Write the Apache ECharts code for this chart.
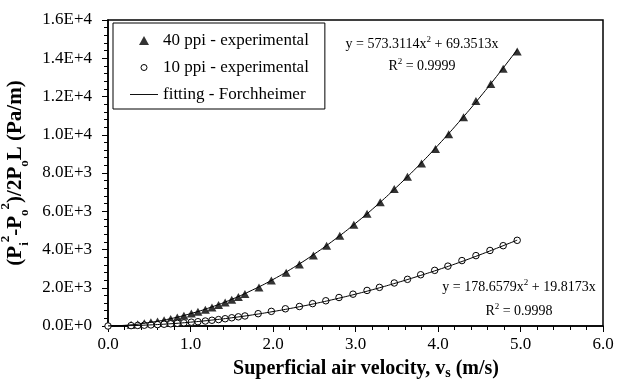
<!DOCTYPE html>
<html><head><meta charset="utf-8">
<script src="https://cdn.jsdelivr.net/npm/echarts@6/dist/echarts.min.js"></script>
<style>html,body{margin:0;padding:0;background:#fff}#c{width:618px;height:383px}</style>
</head><body><div id="c"></div>
<script>
const FONT = 'Liberation Serif';

// 40 ppi experimental points
const x40 = [0.28, 0.36, 0.44, 0.52, 0.60, 0.68, 0.76, 0.84, 0.92, 1.01, 1.09, 1.18, 1.26, 1.34, 1.42, 1.50, 1.58, 1.66, 1.83, 1.98, 2.16, 2.32, 2.49, 2.65, 2.81, 2.98, 3.14, 3.30, 3.47, 3.63, 3.80, 3.97, 4.13, 4.31, 4.46, 4.64, 4.79, 4.96];
const y40 = [60, 95, 140, 190, 240, 300, 370, 450, 540, 650, 740, 850, 970, 1100, 1230, 1370, 1510, 1670, 2010, 2380, 2790, 3220, 3690, 4200, 4720, 5300, 5870, 6470, 7160, 7810, 8500, 9260, 10020, 10920, 11760, 12650, 13450, 14350];

// 10 ppi experimental points
const x10 = [0, 0.28, 0.36, 0.44, 0.52, 0.60, 0.68, 0.76, 0.84, 0.92, 1.01, 1.09, 1.18, 1.26, 1.34, 1.42, 1.50, 1.58, 1.66, 1.82, 1.98, 2.15, 2.32, 2.48, 2.64, 2.80, 2.97, 3.14, 3.29, 3.47, 3.63, 3.79, 3.96, 4.12, 4.29, 4.46, 4.63, 4.79, 4.96];
const y10 = [0, 20, 30, 42, 56, 72, 92, 115, 140, 165, 200, 225, 260, 300, 335, 380, 430, 480, 525, 645, 765, 900, 1020, 1170, 1320, 1490, 1665, 1860, 2020, 2250, 2440, 2680, 2910, 3130, 3420, 3680, 3950, 4200, 4480];

// Forchheimer fitting curves
const fitX = [0, 0.25, 0.5, 0.75, 1.0, 1.25, 1.5, 1.75, 2.0, 2.25, 2.5, 2.75, 3.0, 3.25, 3.5, 3.75, 4.0, 4.25, 4.5, 4.75, 4.96];
const fit40 = [0, 50, 180, 375, 645, 985, 1395, 1880, 2430, 3060, 3760, 4530, 5370, 6280, 7270, 8320, 9450, 10650, 11920, 13270, 14450];
const fit10 = [0, 15, 55, 115, 200, 305, 430, 580, 755, 950, 1165, 1405, 1665, 1950, 2260, 2590, 2940, 3310, 3710, 4130, 4490];

const xTickLabels = ['0.0', '1.0', '2.0', '3.0', '4.0', '5.0', '6.0'];
const yTickLabels = ['0.0E+0', '2.0E+3', '4.0E+3', '6.0E+3', '8.0E+3', '1.0E+4', '1.2E+4', '1.4E+4', '1.6E+4'];

const seriesNames = ['40 ppi - experimental', '10 ppi - experimental', 'fitting - Forchheimer'];
const eq40 = ['y = 573.3114x{sup|2} + 69.3513x', 'R{sup|2} = 0.9999'];
const eq10 = ['y = 178.6579x{sup|2} + 19.8173x', 'R{sup|2} = 0.9998'];

const zip = (a, b) => a.map((v, i) => [v, b[i]]);

const chart = echarts.init(document.getElementById('c'), null, {renderer: 'canvas'});

const eqStyle = (text, x, y) => ({
  type: 'text', x: x, y: y, z: 10,
  style: {
    text: text, fill: '#000', fontSize: 14, fontFamily: FONT,
    align: 'center', verticalAlign: 'middle', lineHeight: 18,
    rich: { sup: { fontSize: 9, fontFamily: FONT, fill: '#000', verticalAlign: 'top', lineHeight: 9 } }
  }
});

chart.setOption({
  animation: false,
  backgroundColor: '#fff',
  grid: { left: 108, right: 15, top: 20, bottom: 57, show: true, borderColor: '#000', borderWidth: 1.5,
          backgroundColor: 'transparent', containLabel: false, outerBoundsMode: 'none' },
  legend: {
    orient: 'vertical', left: 113, top: 23,
    padding: [9, 16, 6, 17], itemGap: 10, itemWidth: 28, itemHeight: 9,
    borderColor: '#000', borderWidth: 1, backgroundColor: '#fff',
    textStyle: { fontSize: 17, fontFamily: FONT, color: '#000' },
    data: [
      { name: seriesNames[0], icon: 'path://M5,0L10,9L0,9Z', itemStyle: { color: '#000' } },
      { name: seriesNames[1], icon: 'path://M0,0M12,12M2,6A4,4,0,1,1,10,6A4,4,0,1,1,2,6Z', itemStyle: { color: '#fff', borderColor: '#000', borderWidth: 1 } },
      { name: seriesNames[2], icon: 'path://M0,0L30,0L30,1L0,1Z', itemStyle: { color: '#000' } }
    ]
  },
  xAxis: {
    type: 'value', min: 0, max: 6, interval: 1,
    name: 'Superficial air velocity, v{s|s} (m/s)',
    nameLocation: 'middle', nameGap: 30,
    nameTextStyle: {
      fontSize: 20, fontWeight: 'bold', fontFamily: FONT, color: '#000', lineHeight: 22, padding: [0, 0, 0, 21],
      rich: { s: { fontSize: 14, fontWeight: 'bold', fontFamily: FONT, color: '#000', verticalAlign: 'bottom', lineHeight: 19 } }
    },
    axisLine: { show: true, onZero: false, lineStyle: { color: '#000', width: 1.5 } },
    axisTick: { show: true, length: 6, lineStyle: { color: '#000', width: 1 } },
    minorTick: { show: true, splitNumber: 5, length: 4, lineStyle: { color: '#000', width: 1 } },
    splitLine: { show: false }, minorSplitLine: { show: false },
    axisLabel: { margin: 10, fontSize: 17, fontFamily: FONT, color: '#000', formatter: v => xTickLabels[Math.round(v)] }
  },
  yAxis: {
    type: 'value', min: 0, max: 16000, interval: 2000,
    name: '(P{sub|i}{sup|2}-P{sub|o}{sup|2})/2P{sub|o}L (Pa/m)',
    nameLocation: 'middle', nameRotate: 90, nameGap: 66,
    nameTextStyle: {
      fontSize: 21, fontWeight: 'bold', fontFamily: FONT, color: '#000', lineHeight: 32,
      rich: {
        sub: { fontSize: 13, fontWeight: 'bold', fontFamily: FONT, color: '#000', verticalAlign: 'bottom', lineHeight: 14 },
        sup: { fontSize: 13, fontWeight: 'bold', fontFamily: FONT, color: '#000', verticalAlign: 'top', lineHeight: 14 }
      }
    },
    axisLine: { show: true, onZero: false, lineStyle: { color: '#000', width: 1.5 } },
    axisTick: { show: true, length: 6, lineStyle: { color: '#000', width: 1 } },
    minorTick: { show: true, splitNumber: 5, length: 4, lineStyle: { color: '#000', width: 1 } },
    splitLine: { show: false }, minorSplitLine: { show: false },
    axisLabel: { margin: 16, fontSize: 17, fontFamily: FONT, color: '#000', formatter: v => yTickLabels[Math.round(v / 2000)] }
  },
  series: [
    { name: seriesNames[0], type: 'scatter', data: zip(x40, y40), symbol: 'triangle', symbolSize: [9, 8],
      itemStyle: { color: '#000' }, z: 2 },
    { name: seriesNames[1], type: 'scatter', data: zip(x10, y10), symbol: 'circle', symbolSize: 6.5,
      itemStyle: { color: '#fff', borderColor: '#000', borderWidth: 1, opacity: 1 }, z: 2 },
    { name: seriesNames[2], type: 'line', data: zip(fitX, fit40), smooth: true, symbol: 'none',
      lineStyle: { color: '#000', width: 1 }, itemStyle: { color: '#000' }, z: 3 },
    { name: seriesNames[2], type: 'line', data: zip(fitX, fit10), smooth: true, symbol: 'none',
      lineStyle: { color: '#000', width: 1 }, itemStyle: { color: '#000' }, z: 3 }
  ],
  graphic: [
    eqStyle(eq40[0], 422, 44),
    eqStyle(eq40[1], 422, 66),
    eqStyle(eq10[0], 519, 287),
    eqStyle(eq10[1], 519, 311)
  ]
});
</script></body></html>
